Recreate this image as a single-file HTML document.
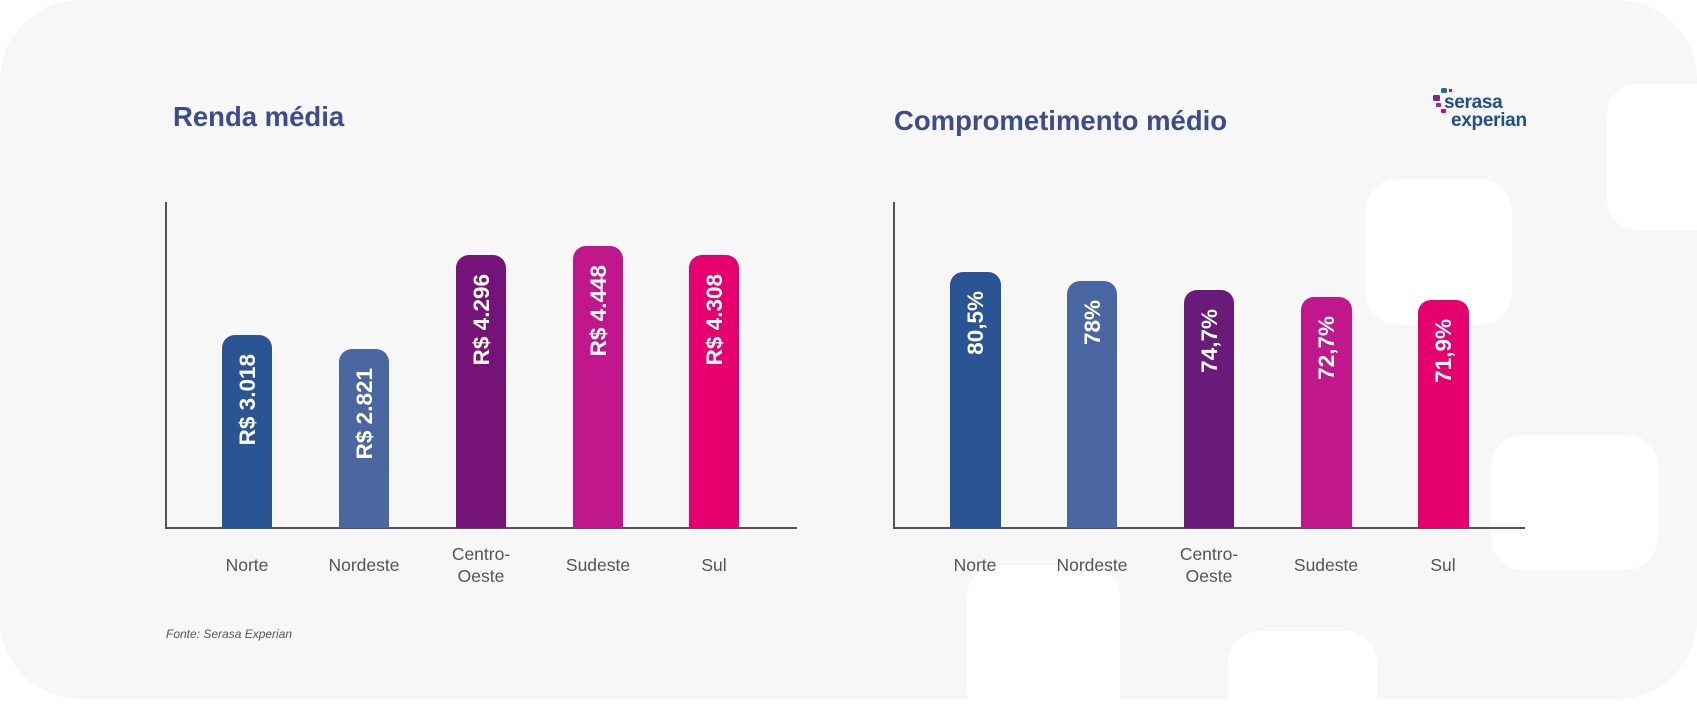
<!DOCTYPE html>
<html><head><meta charset="utf-8"><style>
body{margin:0;width:1697px;height:699px;background:#fff;overflow:hidden;font-family:"Liberation Sans",sans-serif}
</style></head><body>
<svg width="1697" height="699" xmlns="http://www.w3.org/2000/svg" font-family="Liberation Sans, sans-serif">
<rect x="0" y="0" width="1697" height="699" rx="80" fill="#f7f7f7"/>
<g fill="#ffffff">
<rect x="1607" y="84" width="120" height="146" rx="30"/>
<rect x="1366" y="179" width="146" height="146" rx="32"/>
<rect x="1491" y="435" width="167" height="135" rx="32"/>
<rect x="967" y="565" width="153" height="160" rx="32"/>
<rect x="1228" y="631" width="149" height="100" rx="32"/>
</g>
<text x="173" y="126" font-size="27.5" font-weight="bold" fill="#3b4d8e">Renda média</text>
<text x="894" y="130" font-size="27.5" font-weight="bold" fill="#3b4d8e">Comprometimento médio</text>
<!-- logo -->
<rect x="1433" y="95" width="7" height="6" rx="1.5" fill="#7b2a7e"/>
<rect x="1441" y="88" width="6" height="5" rx="1.5" fill="#1d6bb3"/>
<rect x="1436" y="103" width="5" height="4" rx="1" fill="#c0188c"/>
<rect x="1441" y="109" width="5" height="4" rx="1" fill="#e6006e"/>
<rect x="1449" y="89" width="3" height="3" fill="#e6006e"/>
<text x="1444" y="108" font-size="19" fill="#1d4f91" font-weight="bold" letter-spacing="-0.3">serasa</text>
<text x="1451" y="126" font-size="19" fill="#1d4f91" font-weight="bold" letter-spacing="-0.3">experian</text>
<g stroke="#555" stroke-width="2"><line x1="166" y1="202" x2="166" y2="529"/><line x1="165" y1="528" x2="797" y2="528"/>
<line x1="894" y1="202" x2="894" y2="529"/><line x1="893" y1="528" x2="1525" y2="528"/></g>
<g>
<path d="M222 528V348a13 13 0 0 1 13-13h24a13 13 0 0 1 13 13V528z" fill="#2a5594"/>
<path d="M339 528V362a13 13 0 0 1 13-13h24a13 13 0 0 1 13 13V528z" fill="#4a67a1"/>
<path d="M456 528V268a13 13 0 0 1 13-13h24a13 13 0 0 1 13 13V528z" fill="#761378"/>
<path d="M573 528V259a13 13 0 0 1 13-13h24a13 13 0 0 1 13 13V528z" fill="#c0188c"/>
<path d="M689 528V268a13 13 0 0 1 13-13h24a13 13 0 0 1 13 13V528z" fill="#e6006e"/>
<path d="M950 528V285a13 13 0 0 1 13-13h25a13 13 0 0 1 13 13V528z" fill="#2a5594"/>
<path d="M1067 528V294a13 13 0 0 1 13-13h24a13 13 0 0 1 13 13V528z" fill="#4a67a1"/>
<path d="M1184 528V303a13 13 0 0 1 13-13h24a13 13 0 0 1 13 13V528z" fill="#6a1a78"/>
<path d="M1301 528V310a13 13 0 0 1 13-13h25a13 13 0 0 1 13 13V528z" fill="#c0188c"/>
<path d="M1418 528V313a13 13 0 0 1 13-13h25a13 13 0 0 1 13 13V528z" fill="#e6006e"/>
</g>
<g fill="#fff" font-size="22.5" font-weight="bold" text-anchor="end">
<text transform="translate(255,354) rotate(-90)">R$ 3.018</text>
<text transform="translate(372,368) rotate(-90)">R$ 2.821</text>
<text transform="translate(489,274) rotate(-90)">R$ 4.296</text>
<text transform="translate(606,265) rotate(-90)">R$ 4.448</text>
<text transform="translate(722,274) rotate(-90)">R$ 4.308</text>
<text transform="translate(983,291) rotate(-90)">80,5%</text>
<text transform="translate(1100,300) rotate(-90)">78%</text>
<text transform="translate(1217,309) rotate(-90)">74,7%</text>
<text transform="translate(1334,316) rotate(-90)">72,7%</text>
<text transform="translate(1451,319) rotate(-90)">71,9%</text>
</g>
<g fill="#555" font-size="17.5" text-anchor="middle">
<text x="247" y="571">Norte</text><text x="364" y="571">Nordeste</text>
<text x="481" y="560">Centro-</text><text x="481" y="582">Oeste</text>
<text x="598" y="571">Sudeste</text><text x="714" y="571">Sul</text>
<text x="975" y="571">Norte</text><text x="1092" y="571">Nordeste</text>
<text x="1209" y="560">Centro-</text><text x="1209" y="582">Oeste</text>
<text x="1326" y="571">Sudeste</text><text x="1443" y="571">Sul</text>
</g>
<text x="166" y="638" font-size="12" font-style="italic" fill="#555">Fonte: Serasa Experian</text>
</svg>
</body></html>
